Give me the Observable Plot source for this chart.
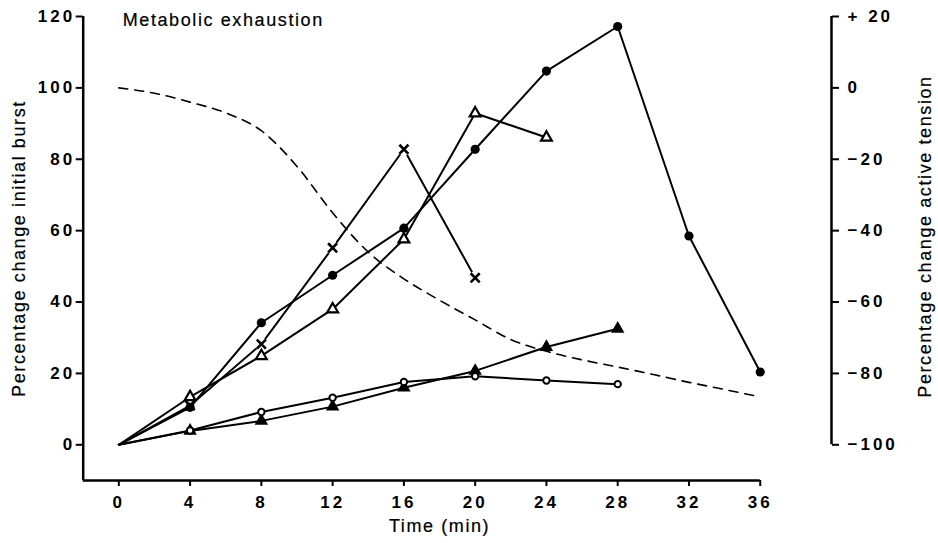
<!DOCTYPE html>
<html>
<head>
<meta charset="utf-8">
<script src="https://cdn.jsdelivr.net/npm/d3@7"></script>
<script src="https://cdn.jsdelivr.net/npm/@observablehq/plot@0.6"></script>
<style>
  body { margin: 0; background: #fff; }
  #chart svg { display: block; }
</style>
</head>
<body>
<div id="chart"></div>
<script>
// ---- data ----
const time = [0, 4, 8, 12, 16, 20, 24, 28, 32, 36];
// percentage change of initial burst (left axis)
const filledCircle   = [0, 10.5, 34.2, 47.5, 60.7, 82.8, 104.7, 117.2, 58.5, 20.4];
const openTriangle   = [0, 13.4, 24.9, 38.0, 57.6, 92.9, 86.1];
const cross          = [0, 11.0, 28.2, 55.2, 82.8, 46.8];
const filledTriangle = [0, 3.9, 6.7, 10.7, 16.0, 20.7, 27.4, 32.5];
const openCircle     = [0, 4.0, 9.2, 13.2, 17.6, 19.2, 18.0, 17.0];
// percentage change of active tension (right axis, dashed)
const tensionTime = [0, 2, 4, 6, 8, 10, 12, 14, 16, 18, 20, 22, 24, 26, 28, 30, 32, 34, 36];
const tension     = [0, -1.5, -4, -7, -12, -22, -35, -46, -53.5, -59.5, -65, -70.5, -73.8, -76.2, -78.2, -80.3, -82.5, -84.5, -86.6];
// ticks
const xTicks = [0, 4, 8, 12, 16, 20, 24, 28, 32, 36];
const leftTicks = [0, 20, 40, 60, 80, 100, 120];
const rightTickLabels = [-100, -80, -60, -40, -20, 0, 20];
const rightOffset = 100; // right axis value = left axis value - 100

const rows = vals => vals.map((v, i) => ({t: time[i], v}));
const sFilledCircle = rows(filledCircle);
const sOpenTriangle = rows(openTriangle);
const sCross = rows(cross);
const sFilledTriangle = rows(filledTriangle);
const sOpenCircle = rows(openCircle);
const sTension = tension.map((v, i) => ({t: tensionTime[i], v: v + rightOffset}));
const markers = s => s.filter(d => d.t > 0);

const fmtRight = v => v > 0 ? "+ " + v : v < 0 ? "\u2212" + (-v) : "0";

const chart = Plot.plot({
  width: 938,
  height: 543,
  marginLeft: 82.7,
  marginRight: 107,
  marginTop: 16,
  marginBottom: 63,
  x: {domain: [-2, 40]},
  y: {domain: [-10, 120]},
  style: {fontFamily: "'Liberation Sans', Arial, sans-serif", fontSize: "16px", color: "black", background: "white"},
  marks: [
    // axis lines
    Plot.ruleX([-2], {y1: -10, y2: 120, strokeWidth: 2.5}),
    Plot.ruleY([-10], {x1: -2, x2: 36, strokeWidth: 2.5}),
    Plot.ruleX([40], {y1: rightTickLabels[0] + rightOffset, y2: rightTickLabels[rightTickLabels.length - 1] + rightOffset, strokeWidth: 2.5}),
    Plot.axisX({ticks: xTicks, tickSize: 6, tickPadding: 9, strokeWidth: 2, label: null}),
    Plot.axisY({anchor: "left", ticks: leftTicks, tickSize: 7, tickPadding: 1, strokeWidth: 2, label: null}),
    Plot.axisY({anchor: "right", ticks: rightTickLabels.map(v => v + rightOffset), tickFormat: v => fmtRight(v - rightOffset), tickSize: 7, tickPadding: 9, strokeWidth: 2, label: null}),
    // axis titles and chart title
    Plot.text(["Percentage change initial burst"], {frameAnchor: "left", textAnchor: "middle", dx: -64, rotate: -90, fontSize: 18}),
    Plot.text(["Percentage change active tension"], {frameAnchor: "right", textAnchor: "middle", dx: 94, dy: -12, rotate: -90, fontSize: 18}),
    Plot.text([{t: 18, s: "Time (min)"}], {x: "t", text: "s", frameAnchor: "bottom", dy: 51, fontSize: 18}),
    Plot.text(["Metabolic exhaustion"], {frameAnchor: "top-left", dx: 39.5, dy: -3.5, textAnchor: "start", fontSize: 18}),
    // tension (dashed)
    Plot.line(sTension, {x: "t", y: "v", curve: "monotone-x", strokeWidth: 1.6, strokeDasharray: "9,7"}),
    // cross series with white gaps round its markers
    Plot.line(sCross, {x: "t", y: "v", strokeWidth: 2}),
    Plot.dot(sCross.filter(d => d.t >= 8), {x: "t", y: "v", r: 6.5, fill: "white"}),
    // other series
    Plot.line(sFilledCircle, {x: "t", y: "v", strokeWidth: 2}),
    Plot.line(sOpenTriangle, {x: "t", y: "v", strokeWidth: 2}),
    Plot.line(sFilledTriangle, {x: "t", y: "v", strokeWidth: 2}),
    Plot.line(sOpenCircle, {x: "t", y: "v", strokeWidth: 2}),
    Plot.dot(markers(sFilledCircle), {x: "t", y: "v", r: 4.6, fill: "black"}),
    Plot.dot(markers(sOpenTriangle), {x: "t", y: "v", symbol: "triangle", r: 4, fill: "white", stroke: "black", strokeWidth: 2.2}),
    Plot.dot(markers(sFilledTriangle), {x: "t", y: "v", symbol: "triangle", r: 5, fill: "black"}),
    Plot.dot(markers(sOpenCircle), {x: "t", y: "v", r: 3.2, fill: "white", stroke: "black", strokeWidth: 2}),
    Plot.dot(markers(sCross), {x: "t", y: "v", symbol: "times", r: 4.2, stroke: "black", strokeWidth: 2.6})
  ]
});

const svg = d3.select(chart);
svg.selectAll('g[aria-label$="tick label"] text')
  .attr("letter-spacing", "3px")
  .attr("font-weight", "bold")
  .attr("font-size", "17px");
svg.selectAll('g[aria-label="text"] text')
  .attr("letter-spacing", "1.6px")
  .attr("stroke", "black")
  .attr("stroke-width", 0.2);
document.getElementById("chart").append(chart);
</script>
</body>
</html>
